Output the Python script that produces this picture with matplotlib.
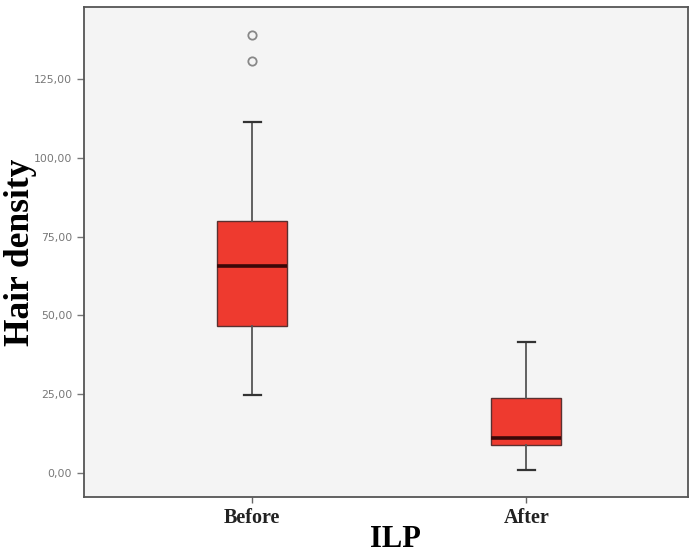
import numpy as np
from matplotlib import pyplot as plt
from matplotlib.ticker import FuncFormatter

# values
groups = ["Before", "After"]
whisker_low = [24.7, 1.0]
q1 = [46.6, 8.9]
median = [65.7, 11.1]
q3 = [80.0, 23.8]
whisker_high = [111.4, 41.6]
outliers = [[130.7, 139.0], []]
y_ticks = [0, 25, 50, 75, 100, 125]

stats = []
for i, name in enumerate(groups):
    stats.append({
        "label": name,
        "whislo": whisker_low[i],
        "q1": q1[i],
        "med": median[i],
        "q3": q3[i],
        "whishi": whisker_high[i],
        "fliers": outliers[i],
    })

fig = plt.figure(figsize=(6.9, 5.54), dpi=100)
ax = fig.add_axes([84 / 690, 1 - 497 / 554, 604 / 690, 490 / 554])
ax.set_facecolor("#f4f4f4")

ax.bxp(
    stats,
    positions=[1, 2],
    widths=0.255,
    patch_artist=True,
    boxprops=dict(facecolor="#ee3a2f", edgecolor="#5a3030", linewidth=1.0),
    medianprops=dict(color="#3a0808", linewidth=2.6),
    whiskerprops=dict(color="#555555", linewidth=1.3),
    capprops=dict(color="#333333", linewidth=1.6),
    capwidths=0.062,
    flierprops=dict(marker="o", markersize=6, markerfacecolor="none",
                    markeredgecolor="#888888", markeredgewidth=1.3),
)

ax.set_xlim(0.387, 2.59)
ax.set_ylim(-7.6, 147.8)
ax.set_yticks(y_ticks)
ax.yaxis.set_major_formatter(FuncFormatter(lambda v, p: f"{v:.2f}".replace(".", ",")))
ax.tick_params(axis="y", labelsize=7.8, colors="#777777", length=5, width=1.0)
ax.tick_params(axis="x", length=4, width=1.0, colors="#666666", pad=4)
for lab in ax.get_xticklabels():
    lab.set_fontfamily("Liberation Serif")
    lab.set_fontweight("bold")
    lab.set_fontsize(14.5)
    lab.set_color("#222222")

for sp in ax.spines.values():
    sp.set_color("#555555")
    sp.set_linewidth(1.3)

ax.set_xlabel("ILP", fontfamily="Liberation Serif", fontweight="bold", fontsize=22)
ax.xaxis.set_label_coords(0.515, -0.058)
ax.set_ylabel("Hair density", fontfamily="Liberation Serif", fontweight="bold",
              fontsize=25.5)
ax.yaxis.set_label_coords(-0.077, 0.50)

fig.savefig("out.png", dpi=100)
